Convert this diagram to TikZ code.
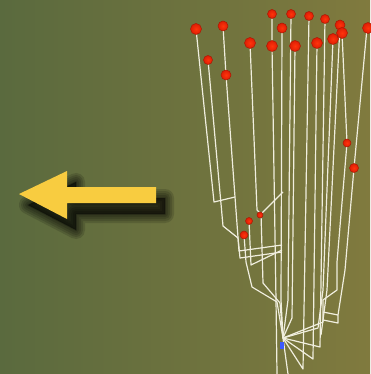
\documentclass[tikz,border=0pt]{standalone}
\usetikzlibrary{calc}
\definecolor{olivel}{RGB}{90,106,62}
\definecolor{oliver}{RGB}{128,122,62}
\definecolor{arrowyel}{RGB}{248,204,64}
\definecolor{wirecol}{RGB}{240,238,222}
\definecolor{ballin}{RGB}{255,52,12}
\definecolor{ballout}{RGB}{222,30,4}
\definecolor{ballrim}{RGB}{170,24,4}
\definecolor{tipblue}{RGB}{60,90,255}
\tikzset{
  stemline/.style={draw=wirecol, line width=1.2pt, line join=round},
  ballnode/.style={inner color=ballin, outer color=ballout, draw=ballrim, line width=0.5pt}
}
\begin{document}
\begin{tikzpicture}[x=1pt,y=-1pt]
    \shade[left color=olivel, right color=oliver] (0,0) rectangle (370,374);
    \useasboundingbox (0,0) rectangle (370,374);
    % arrow and its shadow
    \def\arrowpath{(19,194) -- (67,171) -- (67,187) -- (156,187) -- (156,203) -- (67,203) -- (67,219) -- cycle}
    \foreach \w in {18,14,10,6,2}
      \filldraw[black, opacity=0.14, line width=\w pt, line join=round, shift={(9,11)}] \arrowpath;
    \fill[arrowyel] \arrowpath;
    % wires
    \coordinate (root) at (283,338);
    \draw[stemline] (196,29) -- (214,202) -- (235,197);
    \draw[stemline] (223,26) -- (226,75) -- (235,197) -- (239,251) -- (282,245);
    \draw[stemline] (208,60) -- (223,226) -- (238,238) -- (240,258) -- (282,252);
    \draw[stemline] (250,43) -- (257,210) -- (261,214) -- (263,283) -- (280,303) -- (root);
    \draw[stemline] (261,214) -- (283,192);
    \draw[stemline] (244,235) -- (246,262) -- (252,287) -- (277,302) -- (root);
    \draw[stemline] (249,221) -- (251,265) -- (282,250);
    \draw[stemline] (272,14) -- (272,46) -- (276,300) -- (277,374);
    \draw[stemline] (282,28) -- (281,300) -- (root);
    \draw[stemline] (291,14) -- (288,300) -- (root);
    \draw[stemline] (295,46) -- (292,318) -- (root);
    \draw[stemline] (309,16) -- (303,369) -- (root);
    \draw[stemline] (317,43) -- (313,359) -- (root);
    \draw[stemline] (325,19) -- (320,347) -- (root);
    \draw[stemline] (333,39) -- (323,290) -- (318,328) -- (root);
    \draw[stemline] (340,25) -- (327,290) -- (321,335);
    \draw[stemline] (342,33) -- (347,143) -- (337,262) -- (337,290) -- (323,300) -- (323,322) -- (root);
    \draw[stemline] (367,28) -- (354,168) -- (345,270) -- (338,315) -- (338,323) -- (323,320);
    \draw[stemline] (323,312) -- (338,315);
    \draw[stemline] (root) -- (288,374);
    \fill[tipblue] (280,342) rectangle (284,349);
    % balls
    \foreach \x/\y/\r in {196/29/5.5, 223/26/5, 208/60/4.5, 226/75/5, 250/43/5.5,
        272/14/4.5, 272/46/5.5, 282/28/5, 291/14/4.5, 295/46/5.5, 309/16/4.5,
        317/43/5.5, 325/19/4.5, 333/39/5.5, 340/25/5, 342/33/5.5, 368/28/5.5,
        347/143/4, 354/168/4.5, 249/221/3.5, 260/215/3, 244/235/4}
      \shade[ballnode] (\x,\y) circle (\r);
\end{tikzpicture}
\end{document}
